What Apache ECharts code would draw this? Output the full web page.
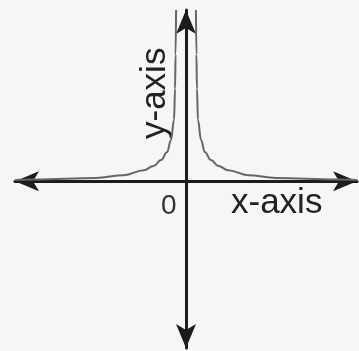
<!DOCTYPE html>
<html>
<head>
<meta charset="utf-8">
<script src="https://cdn.jsdelivr.net/npm/echarts@6/dist/echarts.min.js"></script>
<style>
html,body{margin:0;padding:0;background:#f6f6f6;}
#c{width:359px;height:351px;}
</style>
</head>
<body>
<div id="c"></div>
<script>
// Right branch of the curve (x > 0)
const rightX = [0.58, 0.61, 0.64, 0.70, 0.88, 1.1, 1.46, 1.9, 2.46, 3.63, 5.26, 8.8, 10.0];
const rightY = [10.0, 7.4, 5.4, 3.57, 2.4, 1.7, 1.23, 0.88, 0.64, 0.35, 0.18, 0.09, 0.07];
// Left branch (x < 0)
const leftX = [-10.0, -8.8, -5.26, -3.63, -2.46, -1.9, -1.46, -1.1, -0.88, -0.70, -0.64, -0.61, -0.58];
const leftY = [0.07, 0.09, 0.18, 0.35, 0.64, 0.88, 1.23, 1.7, 2.4, 3.57, 5.4, 7.4, 10.0];
const xRange = [-10, 10];
const yRange = [-9.75, 10];
const labels = { zero: "0", xName: "x-axis", yName: "y-axis" };

const toPairs = (xs, ys) => xs.map((x, i) => [x, ys[i]]);

const chart = echarts.init(document.getElementById('c'));
const axisCommon = {
  type: 'value',
  axisLine: {
    show: true, onZero: true,
    symbol: ['arrow', 'arrow'],
    symbolSize: [15, 24],
    lineStyle: { color: '#1c1c1c', width: 3 }
  },
  axisTick: { show: false },
  axisLabel: { show: false },
  splitLine: { show: false }
};
chart.setOption({
  backgroundColor: '#f6f6f6',
  animation: false,
  grid: { left: 15, right: 2, top: 10, bottom: 3 },
  xAxis: Object.assign({}, axisCommon, { min: xRange[0], max: xRange[1] }),
  yAxis: Object.assign({}, axisCommon, { min: yRange[0], max: yRange[1] }),
  series: [
    { type: 'line', data: toPairs(leftX, leftY), smooth: 0.4, smoothMonotone: 'x',
      showSymbol: false, lineStyle: { color: '#666', width: 2 }, clip: true, z: 1 },
    { type: 'line', data: toPairs(rightX, rightY), smooth: 0.4, smoothMonotone: 'x',
      showSymbol: false, lineStyle: { color: '#666', width: 2 }, clip: true, z: 1 }
  ],
  graphic: [
    { type: 'text', left: 161, top: 192,
      style: { text: labels.zero, fontSize: 28, fontFamily: 'Liberation Sans', fill: '#333' } },
    { type: 'text', left: 231, top: 186,
      style: { text: labels.xName, fontSize: 35, fontFamily: 'Liberation Sans', fill: '#222' } },
    { type: 'text', x: 138, y: 139, rotation: Math.PI / 2,
      style: { text: labels.yName, fontSize: 35, fontFamily: 'Liberation Sans', fill: '#222',
               textAlign: 'left', textVerticalAlign: 'top' } }
  ]
});
</script>
</body>
</html>
